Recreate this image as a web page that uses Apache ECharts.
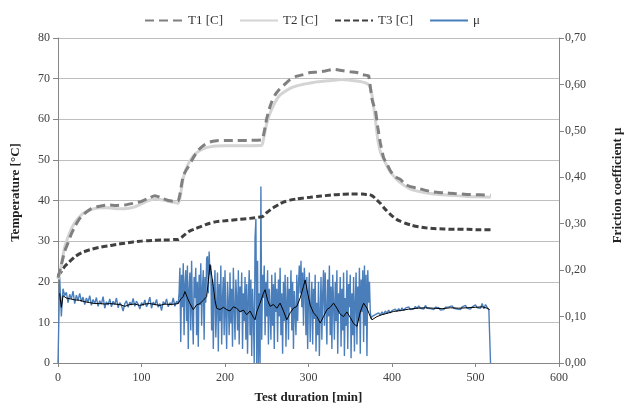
<!DOCTYPE html>
<html>
<head>
<meta charset="utf-8">
<script src="https://cdn.jsdelivr.net/npm/echarts@6/dist/echarts.min.js"></script>
<style>
  html, body { margin: 0; padding: 0; background: #fff; }
  #chart { width: 624px; height: 409px; }
</style>
</head>
<body>
<div id="chart"></div>
<script>
// temperatures
const tempTime = [0, 2, 5, 8, 12, 16, 20, 25, 30, 40, 50, 60, 70, 80, 90, 100, 108, 116, 124, 132, 140, 144,
  146, 148, 150, 153, 156, 160, 165, 170, 176, 182, 190, 200, 215, 230, 244,
  246, 248, 250, 253, 256, 260, 265, 270, 278, 286, 294, 302, 310, 320, 330, 340, 350, 358, 364, 370, 372,
  374, 376, 378, 380, 383, 386, 390, 394, 398, 402, 406, 410, 416, 422, 430, 440, 450, 462, 475, 490, 505, 518]
const t1 = [21.0, 22.6, 25, 27.5, 29.6, 31.8, 33.5, 35.3, 36.5, 38.0, 38.6, 38.9, 38.8, 38.9, 39.3, 39.8, 40.5, 41.2, 40.6, 40.0, 39.8, 40.0,
  41.5, 44.0, 46.0, 47.3, 48.3, 49.8, 51.5, 52.8, 53.8, 54.4, 54.7, 54.8, 54.8, 54.8, 54.9,
  56.0, 58.0, 60.2, 62.5, 64.3, 66.0, 67.3, 68.3, 69.8, 70.6, 71.0, 71.5, 71.6, 71.9, 72.3, 72.0, 71.7, 71.5, 71.0, 70.8, 70.7,
  68, 65, 63.5, 62.4, 58, 54.2, 50.5, 49.0, 47.3, 46.2, 45.6, 45.2, 44.0, 43.4, 43.1, 42.5, 42.1, 41.9, 41.7, 41.5, 41.4, 41.3]
const t2 = [20.6, 22.0, 25.5, 28.5, 31, 33, 34.5, 35.8, 36.8, 37.8, 38.2, 38.2, 38.0, 38.0, 38.3, 39.2, 40.0, 40.4, 40.2, 39.8, 39.5, 39.3,
  40.5, 43, 45.5, 47.5, 49.0, 50.4, 51.6, 52.3, 52.9, 53.2, 53.4, 53.5, 53.5, 53.5, 53.6,
  55, 57, 59, 61, 62.5, 64.2, 65.8, 66.6, 67.6, 68.2, 68.6, 68.9, 69.2, 69.4, 69.6, 69.8, 69.6, 69.4, 69.2, 68.8, 68.5,
  67.8, 66, 63, 60, 55, 52, 50.1, 48.5, 47.1, 46.0, 45.1, 44.4, 43.5, 42.8, 42.3, 41.9, 41.6, 41.4, 41.2, 41.0, 40.9, 40.8]
const t3 = [21.5, 22.0, 22.8, 23.8, 24.6, 25.4, 26.1, 26.8, 27.3, 28.0, 28.5, 28.8, 29.2, 29.5, 29.8, 30.0, 30.1, 30.2, 30.3, 30.3, 30.4, 30.4,
  30.6, 30.9, 31.3, 31.8, 32.3, 32.7, 33.1, 33.5, 34.0, 34.4, 34.8, 35.0, 35.3, 35.6, 36.0,
  36.2, 36.6, 37.0, 37.5, 38.0, 38.5, 39.1, 39.6, 40.1, 40.4, 40.6, 40.8, 41.0, 41.2, 41.4, 41.5, 41.6, 41.6, 41.6, 41.5, 41.5,
  41.4, 41.2, 40.9, 40.5, 39.9, 39.3, 38.3, 37.4, 36.6, 35.9, 35.3, 34.9, 34.4, 34.0, 33.6, 33.3, 33.1, 33.0, 32.9, 32.9, 32.8, 32.8]

// friction coefficient, raw signal
// 0..144 every 2 min
const muCalmA = [0, 0.185, 0.100, 0.160, 0.145, 0.152, 0.130, 0.148, 0.138, 0.155,
  0.128, 0.146, 0.135, 0.150, 0.132, 0.142, 0.126, 0.140, 0.131, 0.145,
  0.124, 0.137, 0.128, 0.141, 0.122, 0.134, 0.127, 0.143, 0.118, 0.132,
  0.125, 0.138, 0.121, 0.133, 0.126, 0.140, 0.119, 0.130, 0.124, 0.112,
  0.128, 0.134, 0.120, 0.131, 0.125, 0.139, 0.122, 0.133, 0.127, 0.116,
  0.130, 0.124, 0.136, 0.121, 0.129, 0.142, 0.118, 0.131, 0.125, 0.137,
  0.120, 0.128, 0.113, 0.132, 0.126, 0.138, 0.121, 0.130, 0.125, 0.140,
  0.122, 0.133, 0.128]
// 145..376 every minute
const muNoisy = [0.150, 0.205, 0.045, 0.190, 0.120, 0.215, 0.060, 0.170, 0.200, 0.090,
  0.210, 0.030, 0.160, 0.195, 0.070, 0.220, 0.110, 0.040, 0.185, 0.140,
  0.205, 0.060, 0.175, 0.035, 0.190, 0.125, 0.215, 0.080, 0.160, 0.200,
  0.050, 0.185, 0.130, 0.225, 0.230, 0.150, 0.240, 0.190, 0.210, 0.070,
  0.180, 0.030, 0.150, 0.200, 0.055, 0.120, 0.195, 0.025, 0.170, 0.090,
  0.210, 0.040, 0.140, 0.185, 0.060, 0.200, 0.100, 0.030, 0.175, 0.130,
  0.060, 0.195, 0.085, 0.160, 0.035, 0.205, 0.120, 0.050, 0.180, 0.140,
  0.070, 0.200, 0.040, 0.165, 0.110, 0.195, 0.030, 0.150, 0.090, 0.185,
  0.050, 0.170, 0.020, 0.140, 0.200, 0.060, 0.180, 0.015, 0.160, 0.100,
  0.000, 0.270, 0.310, 0.000, 0.220, 0.000, 0.150, 0.000, 0.380, 0.050,
  0.190, 0.140, 0.210, 0.060, 0.175, 0.100, 0.200, 0.040, 0.160, 0.120,
  0.050, 0.190, 0.080, 0.170, 0.030, 0.195, 0.110, 0.160, 0.045, 0.180,
  0.100, 0.205, 0.060, 0.150, 0.020, 0.175, 0.090, 0.190, 0.035, 0.130,
  0.185, 0.050, 0.160, 0.120, 0.200, 0.070, 0.175, 0.030, 0.155, 0.110,
  0.060, 0.190, 0.090, 0.170, 0.210, 0.150, 0.220, 0.120, 0.195, 0.080,
  0.205, 0.160, 0.060, 0.185, 0.030, 0.140, 0.195, 0.045, 0.120, 0.175,
  0.040, 0.160, 0.095, 0.190, 0.025, 0.130, 0.060, 0.175, 0.015, 0.110,
  0.185, 0.050, 0.150, 0.200, 0.080, 0.195, 0.120, 0.040, 0.180, 0.100,
  0.210, 0.060, 0.165, 0.030, 0.190, 0.130, 0.050, 0.175, 0.090, 0.200,
  0.020, 0.150, 0.110, 0.185, 0.035, 0.160, 0.070, 0.195, 0.015, 0.140,
  0.080, 0.200, 0.030, 0.170, 0.120, 0.190, 0.010, 0.150, 0.060, 0.185,
  0.025, 0.130, 0.195, 0.040, 0.165, 0.090, 0.205, 0.020, 0.180, 0.110,
  0.200, 0.045, 0.210, 0.080, 0.190, 0.015, 0.200, 0.130, 0.175, 0.110,
  0.095, 0.100]
// 378..518 every 2 min
const muCalmB = [0.098, 0.104, 0.100, 0.108, 0.103, 0.110, 0.105, 0.112, 0.107, 0.114,
  0.108, 0.113, 0.109, 0.116, 0.111, 0.117, 0.112, 0.119, 0.113, 0.118,
  0.114, 0.121, 0.115, 0.119, 0.116, 0.122, 0.117, 0.123, 0.118, 0.121,
  0.116, 0.124, 0.118, 0.122, 0.117, 0.121, 0.115, 0.120, 0.116, 0.119,
  0.114, 0.118, 0.115, 0.120, 0.116, 0.121, 0.117, 0.123, 0.118, 0.122,
  0.116, 0.120, 0.115, 0.121, 0.117, 0.124, 0.118, 0.122, 0.116, 0.121,
  0.117, 0.125, 0.119, 0.123, 0.118, 0.128, 0.117, 0.126, 0.120, 0.114,
  0]

// smoothed friction (black line)
const maTime = [2, 4, 6, 10, 15, 20, 26, 32, 38, 44, 50, 56, 62, 68, 74, 80, 86, 92, 98, 104, 110, 116, 122, 128, 134, 140, 144,
  147, 150, 152, 155, 158, 162, 166, 170, 174, 178, 180, 182, 184, 186, 188, 190, 194, 198, 202, 206, 210, 214, 218, 222, 226,
  230, 234, 236, 238, 242, 246, 248, 251, 254, 258, 262, 266, 270, 274, 278, 282, 286, 290, 294, 296, 299, 302, 306, 310,
  314, 318, 322, 326, 330, 334, 338, 342, 346, 350, 354, 358, 362, 366, 370, 374, 376,
  378, 382, 388, 394, 402, 410, 420, 430, 440, 450, 460, 470, 480, 490, 500, 508, 514, 517]
const maVals = [0.150, 0.120, 0.145, 0.140, 0.138, 0.136, 0.135, 0.132, 0.130, 0.128, 0.128, 0.127, 0.128, 0.127, 0.126, 0.122, 0.126,
  0.127, 0.124, 0.127, 0.128, 0.126, 0.124, 0.127, 0.126, 0.127, 0.128,
  0.138, 0.143, 0.154, 0.140, 0.128, 0.115, 0.125, 0.128, 0.135, 0.143, 0.175, 0.212, 0.190, 0.165, 0.135, 0.118, 0.115, 0.120,
  0.115, 0.112, 0.121, 0.118, 0.110, 0.114, 0.104,
  0.112, 0.098, 0.093, 0.110, 0.129, 0.150, 0.158, 0.135, 0.122, 0.126, 0.118, 0.129, 0.112, 0.093, 0.108, 0.118, 0.122, 0.140,
  0.165, 0.179, 0.150, 0.125, 0.108, 0.100,
  0.086, 0.100, 0.115, 0.120, 0.129, 0.118, 0.105, 0.100, 0.110, 0.098, 0.085, 0.079, 0.110, 0.129, 0.118, 0.100, 0.093,
  0.095, 0.100, 0.104, 0.107, 0.111, 0.113, 0.116, 0.118, 0.119, 0.118, 0.117, 0.119, 0.118, 0.119, 0.120, 0.121, 0.118, 0.115]

const font = 'Liberation Serif'
const axisGray = '#868686'
const labelColor = '#404040'

const pairs = (xs, ys) => xs.map((x, i) => [x, ys[i]])
const muData = [
  ...muCalmA.map((v, i) => [i * 2, v]),
  ...muNoisy.map((v, i) => [145 + i, v]),
  ...muCalmB.map((v, i) => [378 + i * 2, v]),
]

const chart = echarts.init(document.getElementById('chart'))
chart.setOption({
  backgroundColor: '#fff',
  animation: false,
  textStyle: { fontFamily: font },
  legend: {
    top: 9, left: 'center',
    itemWidth: 38, itemHeight: 8, itemGap: 16,
    itemStyle: { opacity: 0 },
    data: ['T1 [C]', 'T2 [C]', 'T3 [C]', 'μ'],
    textStyle: { fontFamily: font, fontSize: 13, color: '#333' },
  },
  grid: { left: 58, right: 65, top: 38, bottom: 46, outerBoundsMode: 'none' },
  xAxis: {
    type: 'value', min: 0, max: 600, interval: 100,
    name: 'Test duration [min]', nameLocation: 'middle', nameGap: 28,
    nameTextStyle: { fontFamily: font, fontWeight: 'bold', fontSize: 13, color: '#222' },
    axisLine: { lineStyle: { color: axisGray } },
    axisTick: { show: true, length: 4, lineStyle: { color: axisGray } },
    axisLabel: { color: labelColor, fontSize: 12, fontFamily: font, margin: 9 },
    splitLine: { show: false },
  },
  yAxis: [
    {
      type: 'value', min: 0, max: 80, interval: 10, position: 'left',
      name: 'Temperature [°C]', nameLocation: 'middle', nameGap: 36, nameRotate: 90,
      nameTextStyle: { fontFamily: font, fontWeight: 'bold', fontSize: 13, color: '#222', padding: [0, 0, 0, 16] },
      axisLine: { show: true, lineStyle: { color: axisGray } },
      axisTick: { show: true, length: 5, lineStyle: { color: axisGray } },
      axisLabel: { color: labelColor, fontSize: 12, fontFamily: font, margin: 8 },
      splitLine: { show: true, lineStyle: { color: '#bfbfbf', width: 1 } },
    },
    {
      type: 'value', min: 0, max: 0.7, interval: 0.1, position: 'right',
      name: 'Friction coefficient μ', nameLocation: 'middle', nameGap: 52, nameRotate: 90,
      nameTextStyle: { fontFamily: font, fontWeight: 'bold', fontSize: 13, color: '#222', padding: [0, 0, 0, 30] },
      axisLine: { show: true, lineStyle: { color: axisGray } },
      axisTick: { show: true, length: 5, lineStyle: { color: axisGray } },
      axisLabel: {
        color: labelColor, fontSize: 12, fontFamily: font, margin: 6,
        formatter: v => v.toFixed(2).replace('.', ','),
      },
      splitLine: { show: false },
    },
  ],
  series: [
    {
      name: 'μ', type: 'line', yAxisIndex: 1, data: muData,
      symbol: 'none', color: '#4a7ebb',
      lineStyle: { color: '#4a7ebb', width: 1.4 }, z: 2,
    },
    {
      name: 'μ avg', type: 'line', yAxisIndex: 1, data: pairs(maTime, maVals),
      symbol: 'none', color: '#000',
      lineStyle: { color: '#000', width: 1 }, z: 3,
    },
    {
      name: 'T3 [C]', type: 'line', data: pairs(tempTime, t3),
      symbol: 'none', smooth: 0.2, color: '#404040',
      lineStyle: { color: '#404040', width: 3, type: [6, 3] }, z: 4,
    },
    {
      name: 'T2 [C]', type: 'line', data: pairs(tempTime, t2),
      symbol: 'none', smooth: 0.2, color: '#d4d4d4',
      lineStyle: { color: '#d4d4d4', width: 3 }, z: 4,
    },
    {
      name: 'T1 [C]', type: 'line', data: pairs(tempTime, t1),
      symbol: 'none', smooth: 0.2, color: '#808080',
      lineStyle: { color: '#808080', width: 3, type: [9, 5] }, z: 5,
    },
  ],
})
</script>
</body>
</html>
